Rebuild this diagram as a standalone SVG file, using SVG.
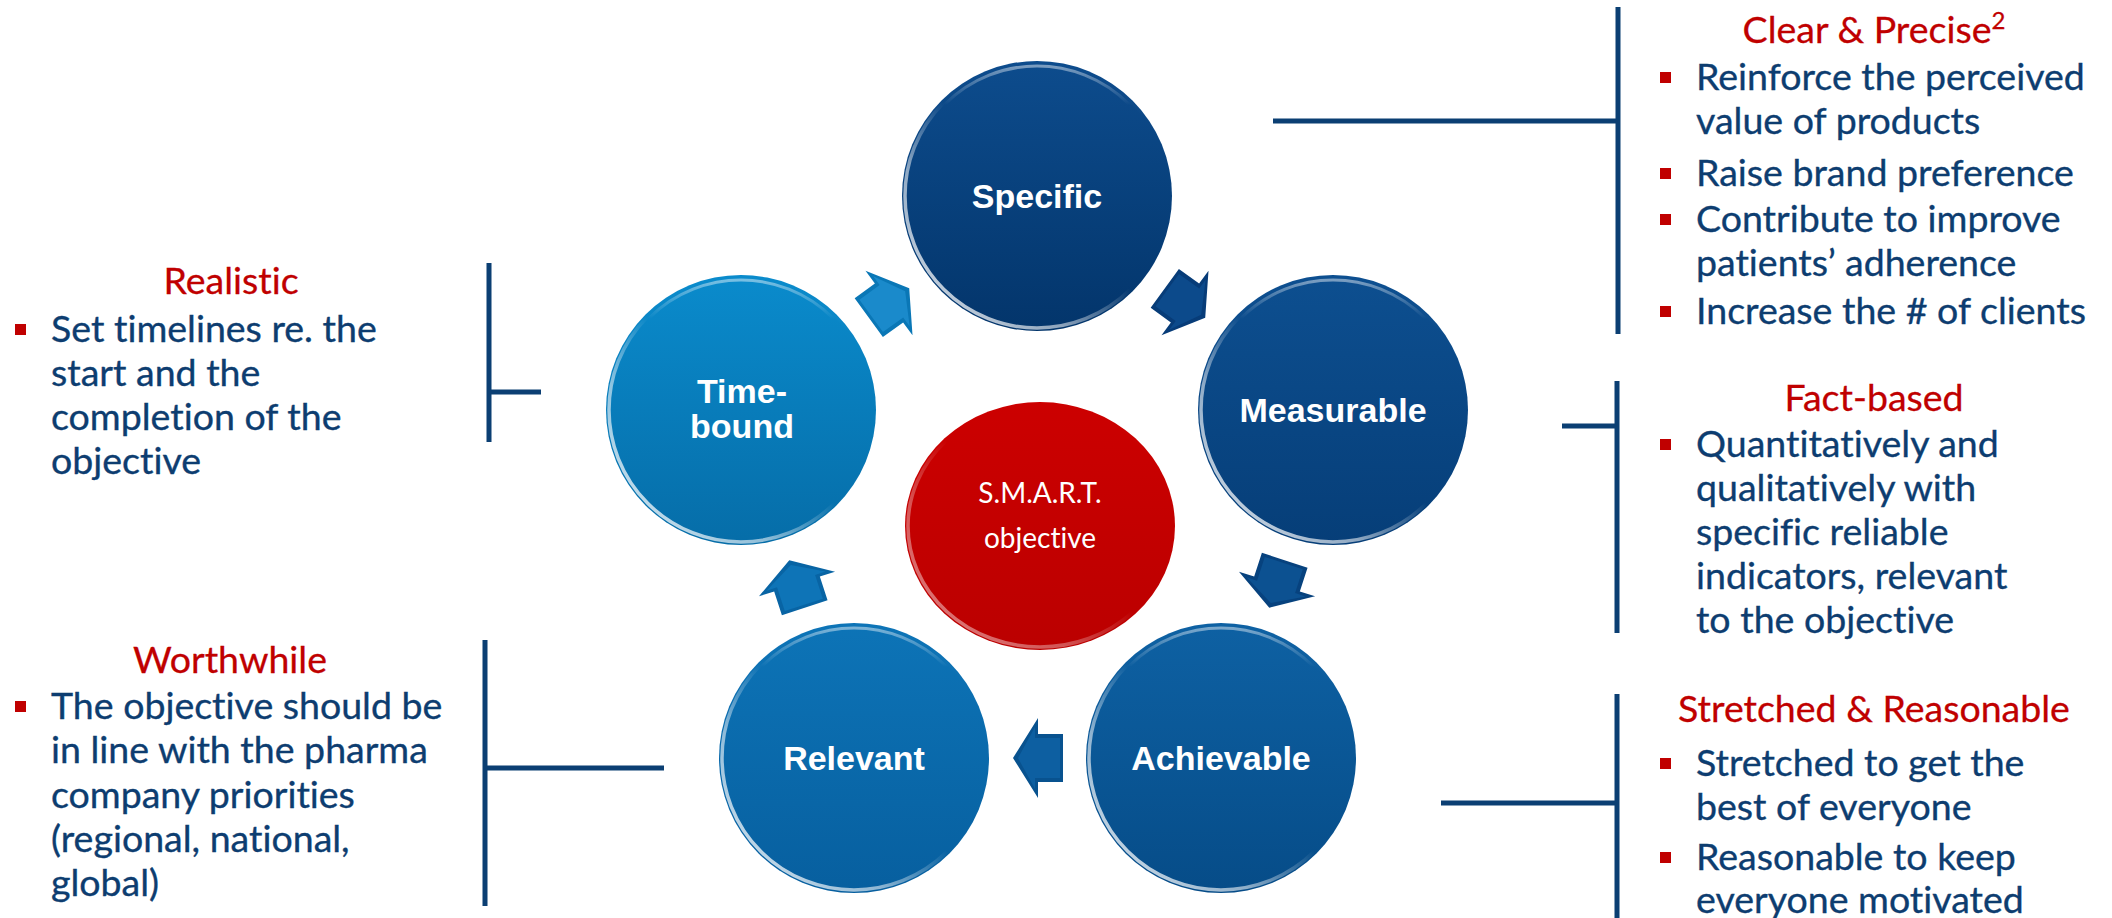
<svg xmlns="http://www.w3.org/2000/svg" width="2112" height="918" viewBox="0 0 2112 918">
<style>
text{font-variant-ligatures:none;font-feature-settings:"liga" 0,"clig" 0,"dlig" 0}
.body{font-family:Lato,"Liberation Sans",sans-serif;font-size:37.5px;fill:#0d3d70;stroke:#0d3d70;stroke-width:0.35}
.title{font-family:Lato,"Liberation Sans",sans-serif;font-size:37.5px;fill:#c00000;stroke:#c00000;stroke-width:0.3;text-anchor:middle}
.lbl{font-family:"Liberation Sans",Arial,sans-serif;font-size:34px;font-weight:bold;fill:#ffffff;text-anchor:middle}
.ctr{font-family:Lato,"Liberation Sans",sans-serif;font-size:28px;fill:#ffffff;text-anchor:middle}
.bul{fill:#c00000}
.br{stroke:#0b3f73;stroke-width:5;fill:none}
.rim{fill:none;stroke:url(#rim);stroke-width:3.5}
.top{fill:none;stroke:url(#topg);stroke-width:3}
</style>
<defs>
<linearGradient id="rim" x1="0" y1="1" x2="1" y2="0">
<stop offset="0" stop-color="#ffffff" stop-opacity="0.9"/>
<stop offset="0.3" stop-color="#ffffff" stop-opacity="0.55"/>
<stop offset="0.5" stop-color="#ffffff" stop-opacity="0"/>
<stop offset="0.85" stop-color="#ffffff" stop-opacity="0"/>
<stop offset="1" stop-color="#ffffff" stop-opacity="0.35"/>
</linearGradient>
<linearGradient id="topg" x1="0" y1="0" x2="0" y2="1">
<stop offset="0" stop-color="#ffffff" stop-opacity="0.45"/>
<stop offset="0.15" stop-color="#ffffff" stop-opacity="0"/>
<stop offset="1" stop-color="#ffffff" stop-opacity="0"/>
</linearGradient>
<linearGradient id="gS" x1="0" y1="0" x2="0" y2="1"><stop offset="0" stop-color="#0d4c8d"/><stop offset="1" stop-color="#03356b"/></linearGradient>
<linearGradient id="gM" x1="0" y1="0" x2="0" y2="1"><stop offset="0" stop-color="#0d4f90"/><stop offset="1" stop-color="#063e78"/></linearGradient>
<linearGradient id="gA" x1="0" y1="0" x2="0" y2="1"><stop offset="0" stop-color="#0e61a3"/><stop offset="1" stop-color="#064c88"/></linearGradient>
<linearGradient id="gR" x1="0" y1="0" x2="0" y2="1"><stop offset="0" stop-color="#0d74b7"/><stop offset="1" stop-color="#075f9f"/></linearGradient>
<linearGradient id="gT" x1="0" y1="0" x2="0" y2="1"><stop offset="0" stop-color="#0a8bcc"/><stop offset="1" stop-color="#066da8"/></linearGradient>
<linearGradient id="gC" x1="0" y1="0" x2="0" y2="1"><stop offset="0" stop-color="#cc0000"/><stop offset="1" stop-color="#bb0000"/></linearGradient>
<path id="arr" d="M-25,-24 L0,-24 L0,-40 L25,0 L0,40 L0,24 L-25,24 Z"/>
<path id="arrIn" d="M-22,-20 L3,-20 L3,-31 L20,0 L3,31 L3,20 L-22,20 Z"/>
</defs>

<g id="connectors">
<path class="br" d="M1618,7 V334 M1273,121 H1618"/>
<path class="br" d="M1617,381 V633 M1562,426 H1617"/>
<path class="br" d="M1617,694 V918 M1441,803 H1617"/>
<path class="br" d="M489,263 V442 M489,392 H541"/>
<path class="br" d="M485,640 V906 M485,768 H664"/>
<g id="arrow-s-m" transform="translate(1185,303) rotate(36)"><use href="#arr" fill="#073c78"/><use href="#arrIn" fill="#0c4a8b"/></g>
<g id="arrow-m-a" transform="translate(1277,584) rotate(108)"><use href="#arr" fill="#07427e"/><use href="#arrIn" fill="#0c5191"/></g>
<g id="arrow-a-r" transform="translate(1038,758) rotate(180)"><use href="#arr" fill="#08528f"/><use href="#arrIn" fill="#0d5fa1"/></g>
<g id="arrow-r-t" transform="translate(797,584) rotate(-108)"><use href="#arr" fill="#0864a4"/><use href="#arrIn" fill="#0e74b7"/></g>
<g id="arrow-t-s" transform="translate(889,303) rotate(-36)"><use href="#arr" fill="#0a77b6"/><use href="#arrIn" fill="#1a8acb"/></g>
</g>

<g id="node-specific">
<circle cx="1037" cy="196" r="135" fill="url(#gS)"/>
<circle class="rim" cx="1037" cy="196" r="132"/><circle class="top" cx="1037" cy="196" r="130"/>
<text class="lbl" x="1037" y="208">Specific</text>
</g>
<g id="node-measurable">
<circle cx="1333" cy="410" r="135" fill="url(#gM)"/>
<circle class="rim" cx="1333" cy="410" r="132"/><circle class="top" cx="1333" cy="410" r="130"/>
<text class="lbl" x="1333" y="422">Measurable</text>
</g>
<g id="node-achievable">
<circle cx="1221" cy="758" r="135" fill="url(#gA)"/>
<circle class="rim" cx="1221" cy="758" r="132"/><circle class="top" cx="1221" cy="758" r="130"/>
<text class="lbl" x="1221" y="770">Achievable</text>
</g>
<g id="node-relevant">
<circle cx="854" cy="758" r="135" fill="url(#gR)"/>
<circle class="rim" cx="854" cy="758" r="132"/><circle class="top" cx="854" cy="758" r="130"/>
<text class="lbl" x="854" y="770">Relevant</text>
</g>
<g id="node-timebound">
<circle cx="741" cy="410" r="135" fill="url(#gT)"/>
<circle class="rim" cx="741" cy="410" r="132"/><circle class="top" cx="741" cy="410" r="130"/>
<text class="lbl" x="742" y="403">Time-</text>
<text class="lbl" x="742" y="438">bound</text>
</g>
<g id="node-smart">
<ellipse cx="1040" cy="526" rx="135" ry="124" fill="url(#gC)"/>
<ellipse class="rim" cx="1040" cy="526" rx="132" ry="121" opacity="0.6"/>
<text class="ctr" x="1040" y="503">S.M.A.R.T.</text>
<text class="ctr" x="1040" y="548">objective</text>
</g>

<g id="note-clear">
<text class="title" x="1874" y="43">Clear &amp; Precise<tspan font-size="24" dy="-14">2</tspan></text>
<rect class="bul" x="1660" y="72" width="11" height="11"/>
<text class="body" x="1696" y="90">Reinforce the perceived</text>
<text class="body" x="1696" y="134">value of products</text>
<rect class="bul" x="1660" y="168" width="11" height="11"/>
<text class="body" x="1696" y="186">Raise brand preference</text>
<rect class="bul" x="1660" y="214" width="11" height="11"/>
<text class="body" x="1696" y="232">Contribute to improve</text>
<text class="body" x="1696" y="276">patients’ adherence</text>
<rect class="bul" x="1660" y="306" width="11" height="11"/>
<text class="body" x="1696" y="324">Increase the # of clients</text>
</g>

<g id="note-fact">
<text class="title" x="1874" y="411">Fact-based</text>
<rect class="bul" x="1660" y="439" width="11" height="11"/>
<text class="body" x="1696" y="457">Quantitatively and</text>
<text class="body" x="1696" y="501">qualitatively with</text>
<text class="body" x="1696" y="545">specific reliable</text>
<text class="body" x="1696" y="589">indicators, relevant</text>
<text class="body" x="1696" y="633">to the objective</text>
</g>

<g id="note-stretched">
<text class="title" x="1874" y="722">Stretched &amp; Reasonable</text>
<rect class="bul" x="1660" y="758" width="11" height="11"/>
<text class="body" x="1696" y="776">Stretched to get the</text>
<text class="body" x="1696" y="820">best of everyone</text>
<rect class="bul" x="1660" y="852" width="11" height="11"/>
<text class="body" x="1696" y="870">Reasonable to keep</text>
<text class="body" x="1696" y="913">everyone motivated</text>
</g>

<g id="note-realistic">
<text class="title" x="231" y="294">Realistic</text>
<rect class="bul" x="15" y="324" width="11" height="11"/>
<text class="body" x="51" y="342">Set timelines re. the</text>
<text class="body" x="51" y="386">start and the</text>
<text class="body" x="51" y="430">completion of the</text>
<text class="body" x="51" y="474">objective</text>
</g>

<g id="note-worthwhile">
<text class="title" x="230" y="673">Worthwhile</text>
<rect class="bul" x="15" y="701" width="11" height="11"/>
<text class="body" x="51" y="719">The objective should be</text>
<text class="body" x="51" y="763">in line with the pharma</text>
<text class="body" x="51" y="808">company priorities</text>
<text class="body" x="51" y="852">(regional, national,</text>
<text class="body" x="51" y="896">global)</text>
</g>
</svg>
